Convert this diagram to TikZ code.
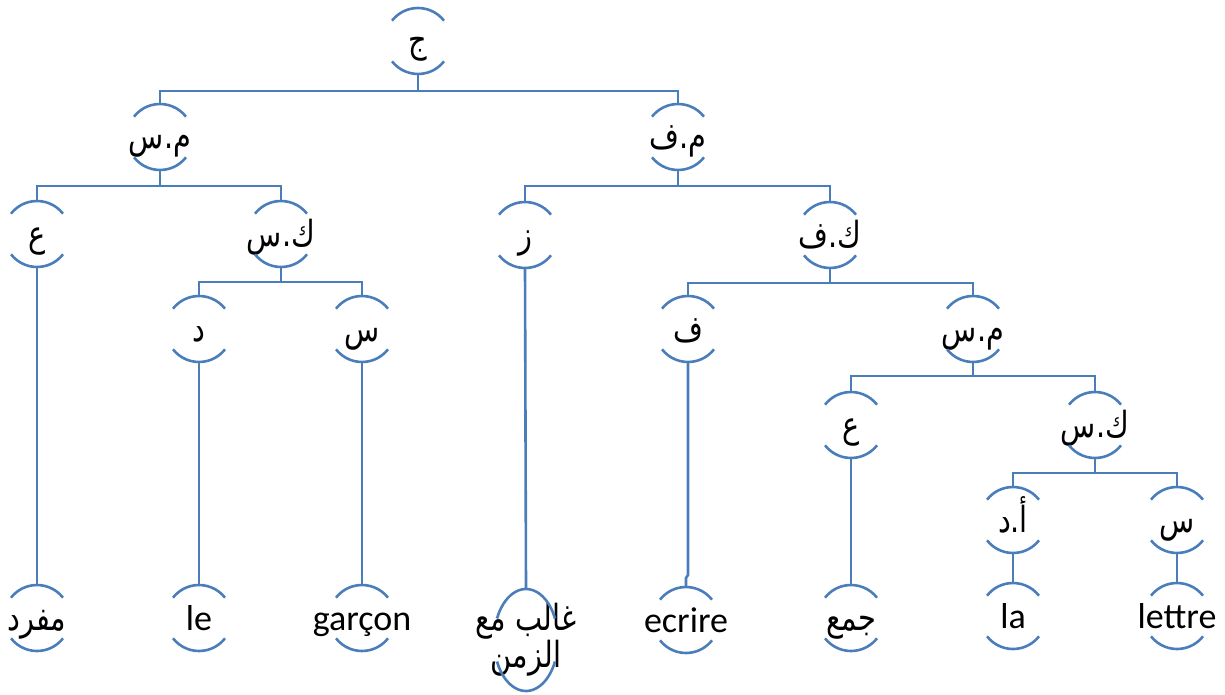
\documentclass[tikz,border=0pt]{standalone}
\usepackage{fontspec}
\setmainfont{Carlito}
\newfontfamily\arabicfont[Script=Arabic,FakeStretch=0.8]{DejaVu Sans}
\TeXXeTstate=1
\usetikzlibrary{calc}
\definecolor{ln}{RGB}{74,126,187}
\tikzset{
  conn/.style={draw=ln, line width=2.6pt},
  lab/.style={inner sep=0pt, text height=30pt, text depth=6pt, font=\fontsize{36}{40}\selectfont},
  alab/.style={inner sep=0pt, text height=30pt, text depth=6pt, font=\fontsize{36}{38}\selectfont\arabicfont}
}
\newcommand\brk[1]{%
  \draw[conn] ($(#1.center)+(38:33)$) arc[start angle=38,end angle=142,radius=33];
  \draw[conn] ($(#1.center)+(218:33)$) arc[start angle=218,end angle=322,radius=33];}
\newcommand\ar[1]{\beginR #1\endR}
\begin{document}
\begin{tikzpicture}[x=1pt,y=1pt]
\useasboundingbox (0,0) rectangle (1225,-695);
% level 0
\node[alab] (J) at (418,-41) {\ar{ج}};
% level 1
\node[alab] (ms1) at (160,-137) {\ar{م.س}};
\node[alab] (mf) at (678,-137) {\ar{م.ف}};
% level 2
\node[alab] (ay1) at (37,-234) {\ar{ع}};
\node[alab] (ks1) at (281,-234) {\ar{ك.س}};
\node[alab] (z) at (525,-235) {\ar{ز}};
\node[alab] (kf) at (830,-235) {\ar{ك.ف}};
% level 3
\node[alab] (d) at (199,-329) {\ar{د}};
\node[alab] (s1) at (362,-329) {\ar{س}};
\node[alab] (f) at (688,-329) {\ar{ف}};
\node[alab] (ms2) at (973,-329) {\ar{م.س}};
% level 4
\node[alab] (ay2) at (851,-425) {\ar{ع}};
\node[alab] (ks2) at (1095,-425) {\ar{ك.س}};
% level 5
\node[alab] (ad) at (1013,-520) {\ar{أ.د}};
\node[alab] (s2) at (1177,-520) {\ar{س}};
% leaves
\node[alab] (mufrad) at (37,-618) {\ar{مفرد}};
\node[lab] (le) at (199,-618) {le};
\node[lab] (garcon) at (362,-618) {garçon};
\coordinate (ghc) at (526,-640);
\node[inner sep=0pt, align=center, font=\fontsize{36}{35}\selectfont\arabicfont] (gh) at (526,-640) {\ar{غالب مع}\\\ar{الزمن}};
\node[lab] (ecrire) at (686,-620) {ecrire};
\node[alab] (jam) at (851,-618) {\ar{جمع}};
\node[lab] (la) at (1013,-616) {la};
\node[lab] (lettre) at (1177,-616) {lettre};

\foreach \n in {J,ms1,mf,ay1,ks1,z,kf,d,s1,f,ms2,ay2,ks2,ad,s2,mufrad,le,garcon,ecrire,jam,la,lettre}{\brk{\n}}
\draw[conn] ($(ghc)+(25:32 and 51)$) arc[start angle=25,end angle=155,x radius=32,y radius=51];
\draw[conn] ($(ghc)+(205:32 and 51)$) arc[start angle=205,end angle=335,x radius=32,y radius=51];

% connectors
\foreach \p/\c/\h in {J/ms1/17, J/mf/17, ms1/ay1/16, ms1/ks1/16, mf/z/16, mf/kf/16,
  ks1/d/15, ks1/s1/15, kf/f/15, kf/ms2/15, ms2/ay2/14, ms2/ks2/14, ks2/ad/15, ks2/s2/15}{
  \draw[conn] ([yshift=-33]\p.center) -- ++(0,-\h) -| ([yshift=33]\c.center);}
\draw[conn] ([yshift=-33]ay1.center) -- ([yshift=33]mufrad.center);
\draw[conn] ([yshift=-33]d.center) -- ([yshift=33]le.center);
\draw[conn] ([yshift=-33]s1.center) -- ([yshift=33]garcon.center);
\draw[conn] ([yshift=-33]z.center) -- ([yshift=51]ghc);
\coordinate (j1) at (688,-575);
\coordinate (j2) at (686,-578);
\draw[conn] ([yshift=-33]f.center) -- (j1) -- (j2) -- ([yshift=33]ecrire.center);
\draw[conn] ([yshift=-33]ay2.center) -- ([yshift=33]jam.center);
\draw[conn] ([yshift=-33]ad.center) -- ([yshift=33]la.center);
\draw[conn] ([yshift=-33]s2.center) -- ([yshift=33]lettre.center);
\end{tikzpicture}
\end{document}
